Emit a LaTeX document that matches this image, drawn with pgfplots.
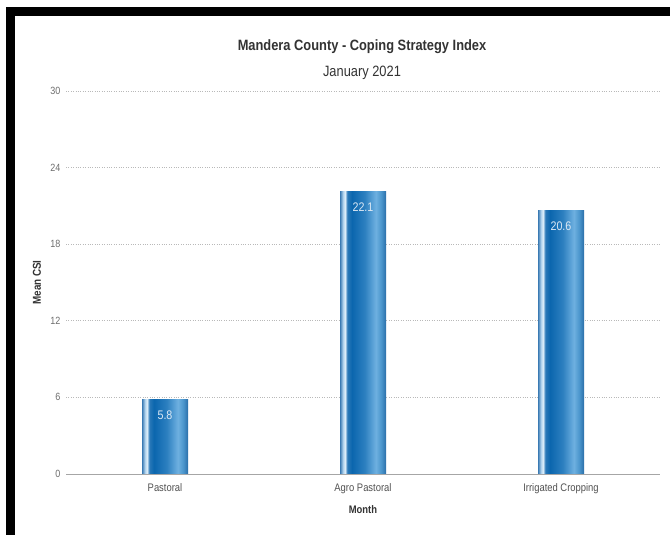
\documentclass[border=0pt]{standalone}
\usepackage{pgfplots}
\pgfplotsset{compat=1.18}
\usepackage{fontspec}
\setmainfont{Liberation Sans}[FakeStretch=0.86]
\definecolor{eL}{HTML}{3A7AB3}
\definecolor{hiA}{HTML}{B8D8F0}
\definecolor{hiB}{HTML}{DCEDF9}
\definecolor{dA}{HTML}{2A78B8}
\definecolor{dB}{HTML}{0B66AE}
\definecolor{mA}{HTML}{2D80C0}
\definecolor{lA}{HTML}{6EB0E0}
\definecolor{mB}{HTML}{4A95CC}
\definecolor{eR}{HTML}{2A6EA8}
\definecolor{titlegray}{HTML}{333333}
\definecolor{tickgray}{HTML}{6E6E6E}
\definecolor{labtext}{HTML}{DCE8F4}
\pgfdeclarehorizontalshading{barshade}{100bp}{color(0bp)=(eL); color(25bp)=(eL); color(28.5bp)=(hiA); color(30.5bp)=(hiB); color(33bp)=(dA); color(38bp)=(dB); color(52bp)=(mA); color(64bp)=(lA); color(70bp)=(mB); color(75bp)=(eR); color(100bp)=(eR)}
\begin{document}
\begin{tikzpicture}[x=1bp,y=1bp]
\fill[white] (0,0) rectangle (670,535);
\fill[black] (6,0) rectangle (15,528);
\fill[black] (6,519) rectangle (670,528);
\node[text=titlegray, font=\fontsize{15}{17}\selectfont\bfseries] at (362,488) {Mandera County - Coping Strategy Index};
\node[text=titlegray, font=\fontsize{15}{17}\selectfont] at (362,462) {January 2021};
\begin{axis}[
  at={(66bp,61bp)}, anchor=south west,
  scale only axis, width=594bp, height=383bp,
  xmin=-0.5, xmax=2.5, ymin=0, ymax=30,
  ytick={0,6,12,18,24,30},
  xtick={0,1,2},
  xticklabels={Pastoral,Agro Pastoral,Irrigated Cropping},
  major tick length=0pt,
  axis lines*=left,
  y axis line style={draw=none},
  x axis line style={draw=gray!70, line width=0.8pt, -},
  ymajorgrids,
  major grid style={dotted, gray!55, line width=0.6pt},
  /pgf/number format/assume math mode=true,
  yticklabel style={text=tickgray, font=\fontsize{10.5}{12}\selectfont, xshift=-2bp},
  xticklabel style={text=titlegray!85, font=\fontsize{11}{12}\selectfont, yshift=-6bp},
  xlabel={Month},
  ylabel={Mean CSI},
  every axis x label/.style={at={(axis description cs:0.5,0)}, anchor=center, yshift=-36bp, font=\fontsize{11}{12}\selectfont\bfseries, text=titlegray},
  every axis y label/.style={at={(axis description cs:0,0.5)}, anchor=center, rotate=90, yshift=29bp, font=\fontsize{11.5}{12}\selectfont\bfseries, text=titlegray},
  clip=false,
  no markers,
  every axis plot/.append style={ybar, bar width=46bp, bar shift=0pt, draw=none, shading=barshade,
    nodes near coords,
    nodes near coords style={anchor=north, yshift=-7bp, text=labtext, font=\fontsize{12.5}{14}\selectfont},
    point meta=explicit symbolic},
]
\addplot coordinates {(0,5.8) [5.8]};
\addplot coordinates {(1,22.1) [22.1]};
\addplot coordinates {(2,20.6) [20.6]};
\end{axis}
\end{tikzpicture}
\end{document}
